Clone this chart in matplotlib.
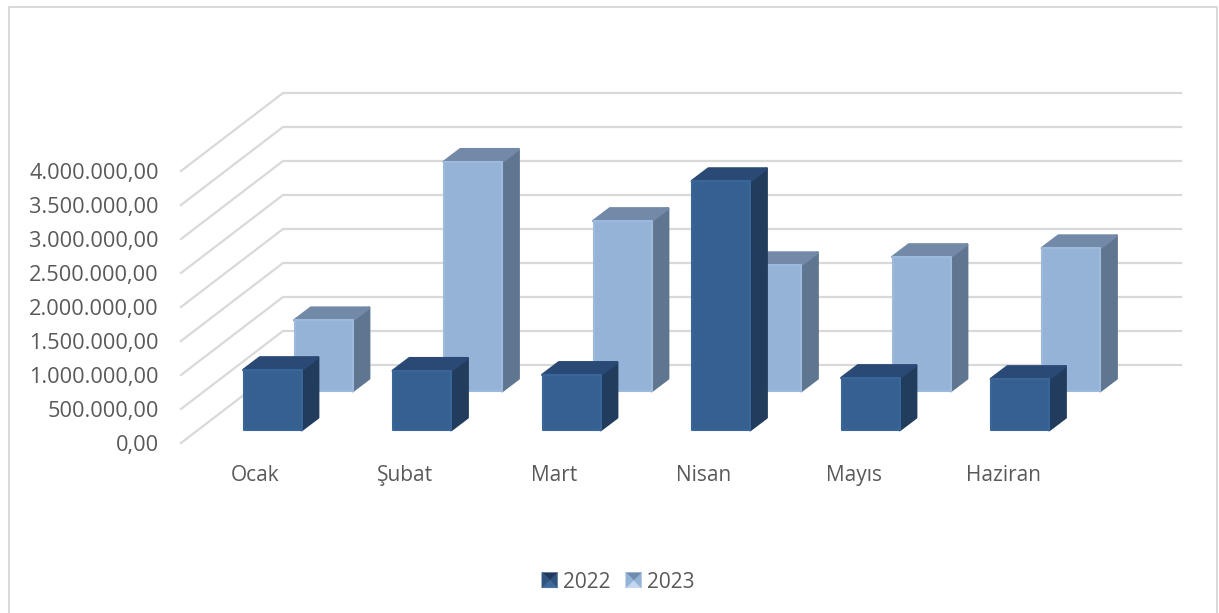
# 3D style clustered column chart, 2022 vs 2023 monthly totals
import matplotlib
matplotlib.use("Agg")
import matplotlib.pyplot as plt
from matplotlib.lines import Line2D
from matplotlib.patches import Patch, Polygon
from matplotlib.legend_handler import HandlerBase

months = ["Ocak", "Şubat", "Mart", "Nisan", "Mayıs", "Haziran"]
values_2022 = [882000, 870000, 810000, 3660000, 765000, 750000]
values_2023 = [1040000, 3370000, 2500000, 1850000, 1970000, 2100000]
y_ticks = [0, 500000, 1000000, 1500000, 2000000, 2500000, 3000000, 3500000, 4000000]
y_labels = ["0,00", "500.000,00", "1.000.000,00", "1.500.000,00", "2.000.000,00",
            "2.500.000,00", "3.000.000,00", "3.500.000,00", "4.000.000,00"]

plt.rcParams["font.family"] = ["Open Sans", "DejaVu Sans"]

W, H = 1219, 613
GREY = "#595959"
GRID = "#d9d9d9"

fig = plt.figure(figsize=(W / 100, H / 100), dpi=100)
# axes box: floor front edge at the bottom, back wall top at the top
ax = fig.add_axes([181 / W, 1 - 443 / H, 1000 / W, 350 / H])

# pixel -> data factors, the fake depth is worked out with these
PX_X = 1 / 149.5
PX_Y = 500000 / 34
ax.set_xlim(-74.5 * PX_X, 925.5 * PX_X)
ax.set_ylim(0, 350 * PX_Y)

for s in ax.spines.values():
    s.set_visible(False)

# walls
wall_dx = 102 * PX_X
wall_dy = 78 * PX_Y
for g in y_ticks:
    ax.plot([ax.get_xlim()[0], ax.get_xlim()[0] + wall_dx, ax.get_xlim()[1]],
            [g, g + wall_dy, g + wall_dy], color=GRID, lw=1.6, zorder=1,
            solid_joinstyle="miter", clip_on=False)


def draw_bars(vals, left_px, base_px, front, edge, side, top, z):
    dx = 16.5 * PX_X
    dy = 12.5 * PX_Y
    width = 58 * PX_X
    base = base_px * PX_Y
    for i, v in enumerate(vals):
        x0 = i + left_px * PX_X
        x1 = x0 + width
        yt = base + v
        ax.add_patch(Polygon([(x1, base), (x1 + dx, base + dy), (x1 + dx, yt + dy), (x1, yt)],
                             fc=side, ec=side, lw=2, joinstyle="round", zorder=z))
        ax.add_patch(Polygon([(x0, yt), (x1, yt), (x1 + dx, yt + dy), (x0 + dx, yt + dy)],
                             fc=top, ec=top, lw=2, joinstyle="round", zorder=z))
        ax.bar(x0, v, width, bottom=base, align="edge", color=front, edgecolor=edge,
               linewidth=1.5, joinstyle="round", zorder=z + 0.5)


draw_bars(values_2023, 39, 52, "#95b3d7", "#9dbade", "#5f7690", "#7389a8", 3)
draw_bars(values_2022, -12, 13, "#35608f", "#38659a", "#213c5c", "#2a4a75", 5)

ax.set_yticks(y_ticks, y_labels)
ax.set_xticks(range(len(months)), months)
ax.tick_params(axis="y", length=0, pad=16, labelsize=15.7, labelcolor=GREY)
ax.tick_params(axis="x", length=0, pad=16, labelsize=15, labelcolor=GREY)


class PyramidHandler(HandlerBase):
    # legend key of the bevelled square
    def create_artists(self, legend, orig, xd, yd, w, h, fontsize, trans):
        light, mid, dark = orig.shades
        x0, y0 = -xd, -yd
        cx, cy = x0 + w / 2, y0 + h / 2
        a, b, c, d = (x0, y0), (x0 + w, y0), (x0 + w, y0 + h), (x0, y0 + h)
        m = (cx, cy)
        out = []
        for pts, col in [([a, b, m], light), ([b, c, m], mid), ([c, d, m], dark), ([d, a, m], mid)]:
            out.append(Polygon(pts, fc=col, ec=col, lw=0.3, transform=trans))
        return out


h22 = Patch(label="2022")
h22.shades = ("#3c6a9c", "#2f5482", "#1f3a5c")
h23 = Patch(label="2023")
h23.shades = ("#c3d6ee", "#95b3d7", "#6f8cb0")
fig.legend(handles=[h22, h23], ncol=2, loc="center", bbox_to_anchor=(618 / W, 1 - 582 / H),
           frameon=False, fontsize=15, labelcolor=GREY, handlelength=0.75, handleheight=0.75,
           handletextpad=0.25, columnspacing=0.75,
           handler_map={Patch: PyramidHandler()})

# chart area border, bottom edge is cut off in the source picture
fig.add_artist(Line2D([9 / W, 9 / W, 1217 / W, 1217 / W], [0, 1 - 7 / H, 1 - 7 / H, 0],
                      color=GRID, lw=1.4, transform=fig.transFigure))

fig.savefig("out.png", dpi=100)
